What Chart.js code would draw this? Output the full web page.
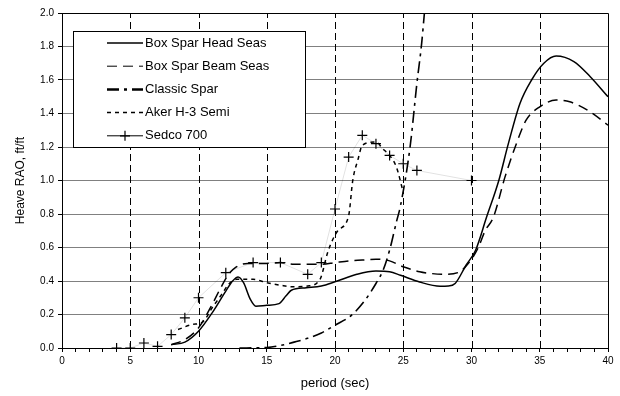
<!DOCTYPE html>
<html><head><meta charset="utf-8">
<script src="https://cdn.jsdelivr.net/npm/chart.js@4/dist/chart.umd.min.js"></script>
<style>html,body{margin:0;padding:0;background:#fff}</style>
</head><body>
<canvas id="c" width="620" height="396"></canvas>
<script>
// ---- data ----
const headSeasT   = [8,9,10,11,12,12.5,12.9,13.3,13.8,14.2,15,15.9,16.4,16.8,17.9,19,20,21.6,23,24,24.8,26.2,27.7,28.3,28.8,29.6,30.3,31.1,32,32.7,33.55,34.4,35.3,36.2,37.5,38.7,40];
const headSeasRAO = [0.02,0.035,0.1,0.21,0.34,0.4,0.424,0.39,0.29,0.25,0.255,0.265,0.31,0.345,0.36,0.37,0.395,0.44,0.46,0.455,0.434,0.394,0.369,0.37,0.385,0.494,0.584,0.78,1.0,1.22,1.46,1.6,1.7,1.743,1.71,1.62,1.5];

const beamSeasT   = [8,9,10,11,11.6,12.2,12.7,13.6,15,16,17,18,19,20,21,22,23,24,25,26.2,27,28,29,29.5,30,30.5,31,31.6,32.45,33.2,34,35,36.2,37.2,38.7,40];
const beamSeasRAO = [0.02,0.05,0.12,0.26,0.355,0.44,0.48,0.505,0.505,0.51,0.5,0.5,0.5,0.51,0.52,0.525,0.53,0.52,0.485,0.455,0.445,0.44,0.45,0.48,0.53,0.6,0.7,0.78,1.02,1.2,1.36,1.44,1.48,1.47,1.41,1.33];

const classicT    = [13,15,16,17,18,19,20,21.2,22.2,23,23.5,24,24.5,24.8,25.5,26,26.35,26.55];
const classicRAO  = [0,0.003,0.015,0.035,0.058,0.09,0.136,0.195,0.285,0.385,0.46,0.584,0.753,0.85,1.2,1.58,1.82,2.0];

const akerT       = [8.5,9.5,10.3,11,11.7,12.2,12.8,14,15,16,17,18,18.9,19.5,20.2,21,21.3,21.7,22,23,23.5,24,24.5,25];
const akerRAO     = [0.11,0.14,0.155,0.24,0.32,0.38,0.41,0.41,0.39,0.375,0.365,0.37,0.41,0.58,0.7,0.79,1.0,1.13,1.21,1.23,1.19,1.15,1.08,0.93];

const sedcoT      = [4,5,6,7,8,9,10,12,14,16,18,19,20,21,22,23,24,25,26,30];
const sedcoRAO    = [0,0,0.03,0.01,0.08,0.18,0.3,0.45,0.51,0.51,0.44,0.51,0.83,1.14,1.27,1.22,1.15,1.1,1.06,1.0];

const seriesNames = ['Box Spar Head Seas','Box Spar Beam Seas','Classic Spar','Aker H-3 Semi','Sedco 700'];
const xTickStep = 1, xMin = 0, xMax = 40, xGridStep = 5;
const yTickStep = 0.2, yMin = 0, yMax = 2.0;

const pts = (t, v) => t.map((x, i) => ({x, y: v[i]}));
const FONT = '"Liberation Sans", Arial, sans-serif';

const insideLegend = {
  id: 'insideLegend',
  afterDatasetsDraw(chart) {
    const ctx = chart.ctx, a = chart.chartArea;
    const x0 = a.left + 11, y0 = a.top + 18, w = 232, h = 116;
    ctx.save();
    ctx.fillStyle = '#fff';
    ctx.fillRect(x0, y0, w, h);
    ctx.strokeStyle = '#000'; ctx.lineWidth = 1;
    ctx.strokeRect(x0 + 0.5, y0 + 0.5, w, h);
    chart.data.datasets.forEach((ds, i) => {
      const y = y0 + 12 + i * 23.2;
      ctx.strokeStyle = '#000';
      ctx.lineWidth = ds.legendWidth || ds.borderWidth;
      ctx.setLineDash(ds.borderDash || []);
      ctx.beginPath(); ctx.moveTo(x0 + 34, y); ctx.lineTo(x0 + 70, y); ctx.stroke();
      ctx.setLineDash([]);
      if (ds.pointRadius > 0) {
        ctx.lineWidth = 1.2;
        ctx.beginPath();
        ctx.moveTo(x0 + 52 - 5, y); ctx.lineTo(x0 + 52 + 5, y);
        ctx.moveTo(x0 + 52, y - 5); ctx.lineTo(x0 + 52, y + 5);
        ctx.stroke();
      }
      ctx.fillStyle = '#000';
      ctx.font = '13px ' + FONT;
      ctx.textBaseline = 'middle';
      ctx.fillText(ds.label, x0 + 72, y);
    });
    ctx.restore();
  }
};

const frame = {
  id: 'frame',
  beforeDatasetsDraw(chart) {
    const ctx = chart.ctx, a = chart.chartArea, xs = chart.scales.x;
    ctx.save();
    // dashed vertical grid lines every 5 s
    ctx.strokeStyle = '#000'; ctx.lineWidth = 1;
    ctx.setLineDash([7, 4]);
    for (let v = xMin + xGridStep; v < xMax; v += xGridStep) {
      const px = Math.round(xs.getPixelForValue(v)) + 0.5;
      ctx.beginPath(); ctx.moveTo(px, a.bottom); ctx.lineTo(px, a.top); ctx.stroke();
    }
    ctx.setLineDash([]);
    ctx.beginPath();
    ctx.moveTo(Math.round(a.left) + 0.5, Math.round(a.top) + 0.5);
    ctx.lineTo(Math.round(a.right) + 0.5, Math.round(a.top) + 0.5);
    ctx.lineTo(Math.round(a.right) + 0.5, Math.round(a.bottom) + 0.5);
    ctx.stroke();
    ctx.restore();
  }
};

new Chart(document.getElementById('c'), {
  type: 'line',
  data: {
    datasets: [
      {label: seriesNames[0], data: pts(headSeasT, headSeasRAO), borderColor: '#000', borderWidth: 1.5, pointRadius: 0, cubicInterpolationMode: 'monotone'},
      {label: seriesNames[1], data: pts(beamSeasT, beamSeasRAO), borderColor: '#000', borderWidth: 1.5, borderDash: [10, 6], pointRadius: 0, cubicInterpolationMode: 'monotone', legendWidth: 1},
      {label: seriesNames[2], data: pts(classicT, classicRAO), borderColor: '#000', borderWidth: 1.6, borderDash: [12, 5, 3, 5], pointRadius: 0, cubicInterpolationMode: 'monotone', legendWidth: 2.5},
      {label: seriesNames[3], data: pts(akerT, akerRAO), borderColor: '#000', borderWidth: 1.5, borderDash: [4, 4], pointRadius: 0, cubicInterpolationMode: 'monotone'},
      {label: seriesNames[4], data: pts(sedcoT, sedcoRAO), borderColor: 'rgba(0,0,0,0.15)', borderWidth: 0.8, tension: 0,
        pointStyle: 'cross', pointRadius: 5, pointBorderColor: '#000', pointBorderWidth: 1.2, legendWidth: 1}
    ]
  },
  options: {
    responsive: false,
    animation: false,
    devicePixelRatio: 1,
    layout: {padding: {left: 0, right: 12, top: 13, bottom: 0}},
    plugins: {legend: {display: false}, tooltip: {enabled: false}},
    scales: {
      x: {
        type: 'linear', min: xMin, max: xMax,
        afterFit(s) { s.height = 48; },
        ticks: {
          stepSize: xTickStep, autoSkip: false, maxRotation: 0, padding: 3,
          color: '#000', font: {family: FONT, size: 10},
          callback: v => (v % 5 === 0 ? String(v) : '')
        },
        grid: {color: 'rgba(0,0,0,0)', lineWidth: 1, tickColor: '#000', tickLength: 4, drawTicks: true},
        border: {color: '#000', width: 1},
        title: {display: true, text: 'period (sec)', color: '#000', font: {family: FONT, size: 13}, padding: {top: 2, bottom: 5}}
      },
      y: {
        min: yMin, max: yMax,
        afterFit(s) { s.width = 62; },
        ticks: {
          stepSize: yTickStep, autoSkip: false, padding: 4,
          color: '#000', font: {family: FONT, size: 10},
          callback: v => Number(v).toFixed(1)
        },
        grid: {color: '#808080', lineWidth: 1, tickColor: '#000', tickLength: 4},
        border: {color: '#000', width: 1},
        title: {display: true, text: 'Heave RAO, ft/ft', color: '#000', font: {family: FONT, size: 12}, padding: {top: 13, bottom: 2}}
      }
    }
  },
  plugins: [frame, insideLegend]
});
</script>
</body></html>
